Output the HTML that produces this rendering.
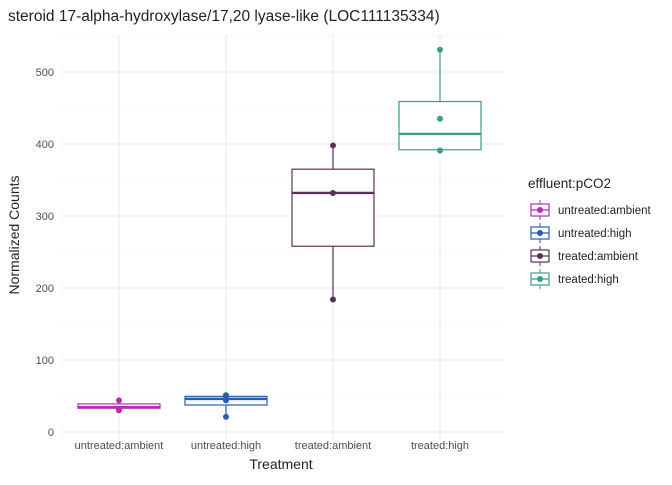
<!DOCTYPE html>
<html><head><meta charset="utf-8"><style>
body{margin:0;background:#fff;font-family:"Liberation Sans",sans-serif}
svg text{font-family:"Liberation Sans",sans-serif}
</style></head><body>
<svg id="c" width="672" height="480">
<text x="8" y="21" font-size="15.5" fill="#222">steroid 17-alpha-hydroxylase/17,20 lyase-like (LOC111135334)</text>
<g id="grid"></g><g id="marks"></g><g id="axes"></g>
<text x="281" y="469" font-size="14" text-anchor="middle" fill="#222">Treatment</text>
<text transform="translate(19,235) rotate(-90)" font-size="14" text-anchor="middle" fill="#222">Normalized Counts</text>
<g id="legend"></g>
</svg>
<script>
const categories=["untreated:ambient","untreated:high","treated:ambient","treated:high"];
const colors=["#B02FB5","#2A5DB0","#5A3156","#3A9E88"];
const q1=[33,37.5,258,392];
const med=[34.5,46,332,414];
const q3=[39,49.5,365,459];
const wlo=[30,21,184,391];
const whi=[44,51,398,531];
const points=[[44,32,30],[51,47,44,21],[398,332,184],[531,435,391]];
const yTicks=[0,100,200,300,400,500];
const NS="http://www.w3.org/2000/svg";
const x0=60,x1=505,bw=82;
const y=v=>432-v*0.72;
const xc=i=>119+i*107;
function mk(t,a,p){const e=document.createElementNS(NS,t);for(const k in a)e.setAttribute(k,a[k]);p.appendChild(e);return e;}
const grid=document.getElementById('grid'),marks=document.getElementById('marks'),axes=document.getElementById('axes'),leg=document.getElementById('legend');
for(let v=50;v<=550;v+=100){const l=mk('line',{x1:x0,x2:x1,y1:y(v),y2:y(v),stroke:'#f2f2f2','stroke-width':0.6},grid);

}
yTicks.forEach(v=>{const l=mk('line',{x1:x0,x2:x1,y1:y(v),y2:y(v),stroke:'#ebebeb','stroke-width':1.1},grid);


const t=mk('text',{x:x0-6,y:y(v)+4,'font-size':11,'text-anchor':'end',fill:'#4d4d4d'},axes);t.textContent=v;

});
categories.forEach((c,i)=>{const l=mk('line',{x1:xc(i),x2:xc(i),y1:35,y2:440,stroke:'#ebebeb','stroke-width':1.1},grid);


const t=mk('text',{x:xc(i),y:449,'font-size':11,'text-anchor':'middle',fill:'#4d4d4d'},axes);t.textContent=c;


const g=mk('g',{},marks);


const col=colors[i];
mk('line',{x1:xc(i),x2:xc(i),y1:y(whi[i]),y2:y(q3[i]),stroke:col,'stroke-width':1.2},g);
mk('line',{x1:xc(i),x2:xc(i),y1:y(q1[i]),y2:y(wlo[i]),stroke:col,'stroke-width':1.2},g);
mk('rect',{x:xc(i)-bw/2,y:y(q3[i]),width:bw,height:y(q1[i])-y(q3[i]),fill:'#fff',stroke:col,'stroke-width':1.2},g);
mk('line',{x1:xc(i)-bw/2,x2:xc(i)+bw/2,y1:y(med[i]),y2:y(med[i]),stroke:col,'stroke-width':2.4},g);
points[i].forEach(p=>{const d=mk('circle',{cx:xc(i),cy:y(p),r:3,fill:col},g);

});
const ly=210+i*23;
const lg=mk('g',{},leg);


mk('line',{x1:540,x2:540,y1:ly-10,y2:ly+10,stroke:col,'stroke-width':1},lg);
mk('rect',{x:531,y:ly-6,width:18,height:12,fill:'#fff',stroke:col,'stroke-width':1.2},lg);
mk('line',{x1:531,x2:549,y1:ly,y2:ly,stroke:col,'stroke-width':1.2},lg);
mk('circle',{cx:540,cy:ly,r:3,fill:col},lg);
const lt=mk('text',{x:558,y:ly+4,'font-size':11.5,fill:'#222'},lg);lt.textContent=c;
});
const lt=mk('text',{x:528,y:188,'font-size':13.5,fill:'#222'},leg);lt.textContent='effluent:pCO2';


</script>
</body></html>
